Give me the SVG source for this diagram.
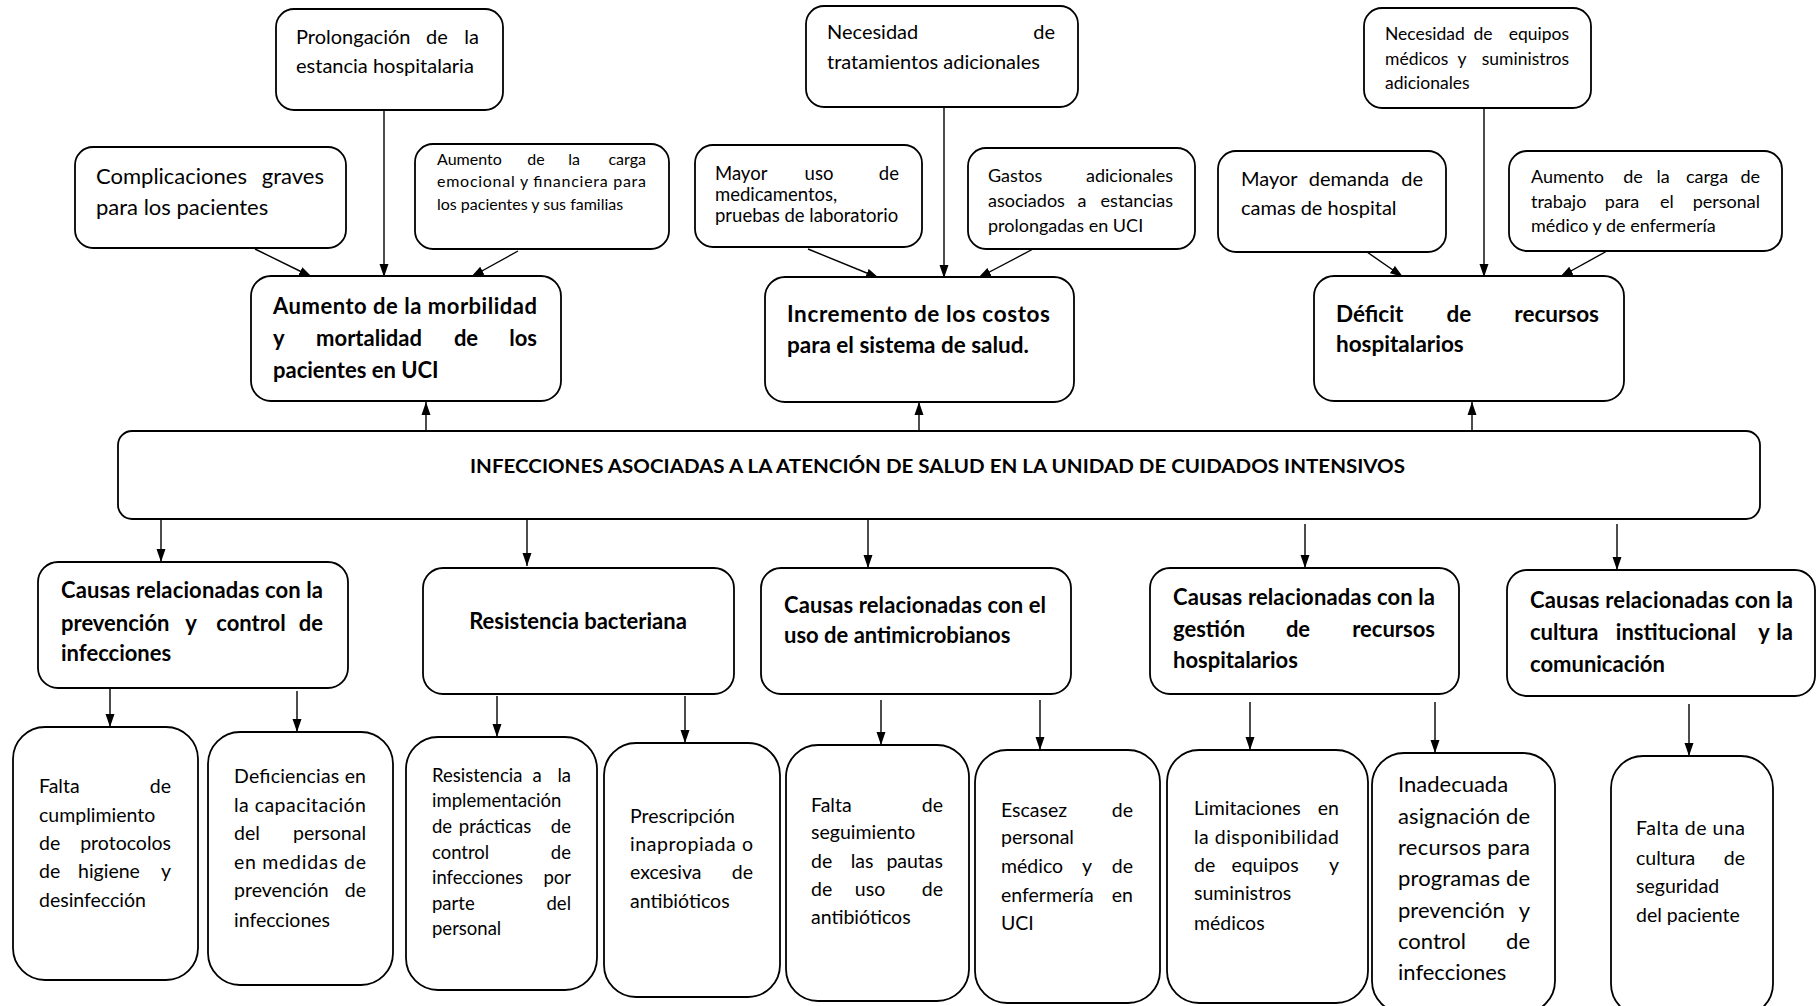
<svg xmlns="http://www.w3.org/2000/svg" width="1817" height="1006" viewBox="0 0 1817 1006">
<style>
.box{fill:#fff;stroke:#000;stroke-width:1.8}
.t{font-family:Lato,"Liberation Sans",sans-serif;fill:#000}
.b{font-weight:bold}
.c{stroke:#000;stroke-width:1.4;fill:none;marker-end:url(#ah)}
.e{text-anchor:end}
.m{text-anchor:middle}
</style>
<defs>
<marker id="ah" markerUnits="userSpaceOnUse" markerWidth="14" markerHeight="10" refX="13" refY="5" orient="auto">
<path d="M0,0.5 L13,5 L0,9.5 z" fill="#000"/>
</marker>
</defs>
<rect width="1817" height="1006" fill="#fff"/>

<g id="connectors">
<line class="c" x1="255" y1="249" x2="312" y2="277"/>
<line class="c" x1="384" y1="110" x2="384" y2="277"/>
<line class="c" x1="518" y1="251" x2="471" y2="277"/>
<line class="c" x1="808" y1="249" x2="879" y2="278"/>
<line class="c" x1="944" y1="107" x2="944" y2="278"/>
<line class="c" x1="1035" y1="248" x2="978" y2="278"/>
<line class="c" x1="1367" y1="252" x2="1403" y2="277"/>
<line class="c" x1="1484" y1="108" x2="1484" y2="277"/>
<line class="c" x1="1607" y1="251" x2="1560" y2="277"/>
<line class="c" x1="426" y1="431" x2="426" y2="402"/>
<line class="c" x1="919" y1="431" x2="919" y2="402"/>
<line class="c" x1="1472" y1="431" x2="1472" y2="402"/>
<line class="c" x1="161" y1="519" x2="161" y2="562"/>
<line class="c" x1="527" y1="519" x2="527" y2="566"/>
<line class="c" x1="868" y1="519" x2="868" y2="568"/>
<line class="c" x1="1305" y1="524" x2="1305" y2="568"/>
<line class="c" x1="1617" y1="524" x2="1617" y2="570"/>
<line class="c" x1="110" y1="688" x2="110" y2="727"/>
<line class="c" x1="297" y1="691" x2="297" y2="732"/>
<line class="c" x1="497" y1="696" x2="497" y2="737"/>
<line class="c" x1="685" y1="696" x2="685" y2="743"/>
<line class="c" x1="881" y1="700" x2="881" y2="745"/>
<line class="c" x1="1040" y1="700" x2="1040" y2="750"/>
<line class="c" x1="1250" y1="702" x2="1250" y2="750"/>
<line class="c" x1="1435" y1="702" x2="1435" y2="753"/>
<line class="c" x1="1689" y1="704" x2="1689" y2="756"/>
</g>

<g id="prolongacion">
<rect class="box" x="276" y="9" width="227" height="101" rx="18"/>
<text class="t" font-size="20" y="44"><tspan x="296">Prolongación</tspan><tspan x="437" class="m">de</tspan><tspan x="479" class="e">la</tspan></text>
<text class="t" font-size="20" x="296" y="73">estancia hospitalaria</text>
</g>

<g id="complicaciones">
<rect class="box" x="75" y="147" width="271" height="101" rx="18"/>
<text class="t" font-size="22" y="184"><tspan x="96">Complicaciones</tspan><tspan x="324" class="e">graves</tspan></text>
<text class="t" font-size="22" x="96" y="215">para los pacientes</text>
</g>

<g id="carga-emocional">
<rect class="box" x="415" y="144" width="254" height="105" rx="18"/>
<text class="t" font-size="16" y="165"><tspan x="437">Aumento</tspan><tspan x="536" class="m">de</tspan><tspan x="574" class="m">la</tspan><tspan x="646" class="e">carga</tspan></text>
<text class="t" font-size="16" x="437" y="187" textLength="209" lengthAdjust="spacing">emocional y financiera para</text>
<text class="t" font-size="16" x="437" y="210">los pacientes y sus familias</text>
</g>

<g id="morbilidad">
<rect class="box" x="251" y="276" width="310" height="125" rx="20"/>
<text class="t b" font-size="22" x="273" y="314" textLength="264" lengthAdjust="spacing">Aumento de la morbilidad</text>
<text class="t b" font-size="22" y="346"><tspan x="273">y</tspan><tspan x="369" class="m">mortalidad</tspan><tspan x="466" class="m">de</tspan><tspan x="537" class="e">los</tspan></text>
<text class="t b" font-size="22" x="273" y="378">pacientes en UCI</text>
</g>

<g id="tratamientos">
<rect class="box" x="806" y="6" width="272" height="101" rx="18"/>
<text class="t" font-size="20" y="39"><tspan x="827">Necesidad</tspan><tspan x="1055" class="e">de</tspan></text>
<text class="t" font-size="20" x="827" y="69">tratamientos adicionales</text>
</g>

<g id="mayor-uso">
<rect class="box" x="695" y="145" width="227" height="102" rx="18"/>
<text class="t" font-size="18.5" y="180"><tspan x="715">Mayor</tspan><tspan x="819" class="m">uso</tspan><tspan x="899" class="e">de</tspan></text>
<text class="t" font-size="18.5" x="715" y="201">medicamentos,</text>
<text class="t" font-size="18.5" x="715" y="222">pruebas de laboratorio</text>
</g>

<g id="gastos">
<rect class="box" x="968" y="148" width="227" height="101" rx="18"/>
<text class="t" font-size="18" y="182"><tspan x="988">Gastos</tspan><tspan x="1173" class="e">adicionales</tspan></text>
<text class="t" font-size="18" y="207"><tspan x="988">asociados</tspan><tspan x="1082" class="m">a</tspan><tspan x="1173" class="e">estancias</tspan></text>
<text class="t" font-size="18" x="988" y="232">prolongadas en UCI</text>
</g>

<g id="costos">
<rect class="box" x="765" y="277" width="309" height="125" rx="20"/>
<text class="t b" font-size="22.5" x="787" y="322" textLength="263" lengthAdjust="spacing">Incremento de los costos</text>
<text class="t b" font-size="22.5" x="787" y="353">para el sistema de salud.</text>
</g>

<g id="equipos">
<rect class="box" x="1364" y="8" width="227" height="100" rx="18"/>
<text class="t" font-size="17.5" y="40"><tspan x="1385">Necesidad</tspan><tspan x="1483" class="m">de</tspan><tspan x="1569" class="e">equipos</tspan></text>
<text class="t" font-size="17.5" y="65"><tspan x="1385">médicos</tspan><tspan x="1462" class="m">y</tspan><tspan x="1569" class="e">suministros</tspan></text>
<text class="t" font-size="17.5" x="1385" y="89">adicionales</text>
</g>

<g id="camas">
<rect class="box" x="1218" y="151" width="228" height="101" rx="18"/>
<text class="t" font-size="20" y="186"><tspan x="1241">Mayor</tspan><tspan x="1349" class="m">demanda</tspan><tspan x="1423" class="e">de</tspan></text>
<text class="t" font-size="20" x="1241" y="215">camas de hospital</text>
</g>

<g id="carga-trabajo">
<rect class="box" x="1509" y="151" width="273" height="100" rx="18"/>
<text class="t" font-size="18" y="183"><tspan x="1531">Aumento</tspan><tspan x="1633" class="m">de</tspan><tspan x="1663" class="m">la</tspan><tspan x="1707" class="m">carga</tspan><tspan x="1760" class="e">de</tspan></text>
<text class="t" font-size="18" y="208"><tspan x="1531">trabajo</tspan><tspan x="1622" class="m">para</tspan><tspan x="1667" class="m">el</tspan><tspan x="1760" class="e">personal</tspan></text>
<text class="t" font-size="18" x="1531" y="232">médico y de enfermería</text>
</g>

<g id="deficit">
<rect class="box" x="1314" y="276" width="310" height="125" rx="20"/>
<text class="t b" font-size="22.5" y="322"><tspan x="1336">Déficit</tspan><tspan x="1459" class="m">de</tspan><tspan x="1599" class="e">recursos</tspan></text>
<text class="t b" font-size="22.5" x="1336" y="352">hospitalarios</text>
</g>

<g id="central">
<rect class="box" x="118" y="431" width="1642" height="88" rx="14"/>
<text class="t b" font-size="19" x="470" y="473" textLength="935" lengthAdjust="spacingAndGlyphs">INFECCIONES ASOCIADAS A LA ATENCIÓN DE SALUD EN LA UNIDAD DE CUIDADOS INTENSIVOS</text>
</g>

<g id="prevencion">
<rect class="box" x="38" y="562" width="310" height="126" rx="20"/>
<text class="t b" font-size="22" x="61" y="598" textLength="262" lengthAdjust="spacing">Causas relacionadas con la</text>
<text class="t b" font-size="22" y="631"><tspan x="61">prevención</tspan><tspan x="191" class="m">y</tspan><tspan x="251" class="m">control</tspan><tspan x="323" class="e">de</tspan></text>
<text class="t b" font-size="22" x="61" y="661">infecciones</text>
</g>

<g id="resistencia">
<rect class="box" x="423" y="568" width="311" height="126" rx="20"/>
<text class="t b m" font-size="22" x="578" y="629">Resistencia bacteriana</text>
</g>

<g id="antimicrobianos">
<rect class="box" x="761" y="568" width="310" height="126" rx="20"/>
<text class="t b" font-size="22" x="784" y="613" textLength="262" lengthAdjust="spacing">Causas relacionadas con el</text>
<text class="t b" font-size="22" x="784" y="643">uso de antimicrobianos</text>
</g>

<g id="gestion">
<rect class="box" x="1150" y="568" width="309" height="126" rx="20"/>
<text class="t b" font-size="22" x="1173" y="605" textLength="262" lengthAdjust="spacing">Causas relacionadas con la</text>
<text class="t b" font-size="22" y="637"><tspan x="1173">gestión</tspan><tspan x="1298" class="m">de</tspan><tspan x="1435" class="e">recursos</tspan></text>
<text class="t b" font-size="22" x="1173" y="668">hospitalarios</text>
</g>

<g id="cultura">
<rect class="box" x="1507" y="570" width="308" height="126" rx="20"/>
<text class="t b" font-size="22" x="1530" y="608" textLength="263" lengthAdjust="spacing">Causas relacionadas con la</text>
<text class="t b" font-size="22" y="640"><tspan x="1530">cultura</tspan><tspan x="1676" class="m">institucional</tspan><tspan x="1764" class="m">y</tspan><tspan x="1793" class="e">la</tspan></text>
<text class="t b" font-size="22" x="1530" y="672">comunicación</text>
</g>

<g id="falta-cumplimiento">
<rect class="box" x="13" y="727" width="185" height="253" rx="32"/>
<text class="t" font-size="19.5" y="793"><tspan x="39">Falta</tspan><tspan x="171" class="e">de</tspan></text>
<text class="t" font-size="19.5" x="39" y="822">cumplimiento</text>
<text class="t" font-size="19.5" y="850"><tspan x="39">de</tspan><tspan x="171" class="e">protocolos</tspan></text>
<text class="t" font-size="19.5" y="878"><tspan x="39">de</tspan><tspan x="109" class="m">higiene</tspan><tspan x="171" class="e">y</tspan></text>
<text class="t" font-size="19.5" x="39" y="907">desinfección</text>
</g>

<g id="deficiencias">
<rect class="box" x="208" y="732" width="185" height="253" rx="32"/>
<text class="t" font-size="19.5" x="234" y="783" textLength="132" lengthAdjust="spacing">Deficiencias en</text>
<text class="t" font-size="19.5" x="234" y="812" textLength="132" lengthAdjust="spacing">la capacitación</text>
<text class="t" font-size="19.5" y="840"><tspan x="234">del</tspan><tspan x="366" class="e">personal</tspan></text>
<text class="t" font-size="19.5" x="234" y="869" textLength="132" lengthAdjust="spacing">en medidas de</text>
<text class="t" font-size="19.5" y="897"><tspan x="234">prevención</tspan><tspan x="366" class="e">de</tspan></text>
<text class="t" font-size="19.5" x="234" y="927">infecciones</text>
</g>

<g id="resistencia-impl">
<rect class="box" x="406" y="737" width="191" height="253" rx="32"/>
<text class="t" font-size="18.5" y="782"><tspan x="432">Resistencia</tspan><tspan x="537" class="m">a</tspan><tspan x="571" class="e">la</tspan></text>
<text class="t" font-size="18.5" x="432" y="807">implementación</text>
<text class="t" font-size="18.5" y="833"><tspan x="432">de</tspan><tspan x="495" class="m">prácticas</tspan><tspan x="571" class="e">de</tspan></text>
<text class="t" font-size="18.5" y="859"><tspan x="432">control</tspan><tspan x="571" class="e">de</tspan></text>
<text class="t" font-size="18.5" y="884"><tspan x="432">infecciones</tspan><tspan x="571" class="e">por</tspan></text>
<text class="t" font-size="18.5" y="910"><tspan x="432">parte</tspan><tspan x="571" class="e">del</tspan></text>
<text class="t" font-size="18.5" x="432" y="935">personal</text>
</g>

<g id="prescripcion">
<rect class="box" x="604" y="743" width="176" height="254" rx="32"/>
<text class="t" font-size="19.5" x="630" y="823">Prescripción</text>
<text class="t" font-size="19.5" x="630" y="851" textLength="123" lengthAdjust="spacing">inapropiada o</text>
<text class="t" font-size="19.5" y="879"><tspan x="630">excesiva</tspan><tspan x="753" class="e">de</tspan></text>
<text class="t" font-size="19.5" x="630" y="908">antibióticos</text>
</g>

<g id="falta-seguimiento">
<rect class="box" x="786" y="745" width="183" height="256" rx="32"/>
<text class="t" font-size="19.5" y="812"><tspan x="811">Falta</tspan><tspan x="943" class="e">de</tspan></text>
<text class="t" font-size="19.5" x="811" y="839">seguimiento</text>
<text class="t" font-size="19.5" y="868"><tspan x="811">de</tspan><tspan x="862" class="m">las</tspan><tspan x="943" class="e">pautas</tspan></text>
<text class="t" font-size="19.5" y="896"><tspan x="811">de</tspan><tspan x="870" class="m">uso</tspan><tspan x="943" class="e">de</tspan></text>
<text class="t" font-size="19.5" x="811" y="924">antibióticos</text>
</g>

<g id="escasez">
<rect class="box" x="975" y="750" width="185" height="253" rx="32"/>
<text class="t" font-size="19.5" y="817"><tspan x="1001">Escasez</tspan><tspan x="1133" class="e">de</tspan></text>
<text class="t" font-size="19.5" x="1001" y="844">personal</text>
<text class="t" font-size="19.5" y="873"><tspan x="1001">médico</tspan><tspan x="1087" class="m">y</tspan><tspan x="1133" class="e">de</tspan></text>
<text class="t" font-size="19.5" y="902"><tspan x="1001">enfermería</tspan><tspan x="1133" class="e">en</tspan></text>
<text class="t" font-size="19.5" x="1001" y="930">UCI</text>
</g>

<g id="limitaciones">
<rect class="box" x="1167" y="750" width="201" height="253" rx="32"/>
<text class="t" font-size="19.5" y="815"><tspan x="1194">Limitaciones</tspan><tspan x="1339" class="e">en</tspan></text>
<text class="t" font-size="19.5" x="1194" y="844" textLength="145" lengthAdjust="spacing">la disponibilidad</text>
<text class="t" font-size="19.5" y="872"><tspan x="1194">de</tspan><tspan x="1265" class="m">equipos</tspan><tspan x="1339" class="e">y</tspan></text>
<text class="t" font-size="19.5" x="1194" y="900">suministros</text>
<text class="t" font-size="19.5" x="1194" y="930">médicos</text>
</g>

<g id="inadecuada">
<rect class="box" x="1372" y="753" width="183" height="260" rx="32"/>
<text class="t" font-size="22" x="1398" y="792">Inadecuada</text>
<text class="t" font-size="22" x="1398" y="824" textLength="132" lengthAdjust="spacing">asignación de</text>
<text class="t" font-size="22" x="1398" y="855" textLength="132" lengthAdjust="spacing">recursos para</text>
<text class="t" font-size="22" x="1398" y="886" textLength="132" lengthAdjust="spacing">programas de</text>
<text class="t" font-size="22" y="918"><tspan x="1398">prevención</tspan><tspan x="1530" class="e">y</tspan></text>
<text class="t" font-size="22" y="949"><tspan x="1398">control</tspan><tspan x="1530" class="e">de</tspan></text>
<text class="t" font-size="22" x="1398" y="980">infecciones</text>
</g>

<g id="falta-cultura">
<rect class="box" x="1611" y="756" width="162" height="260" rx="32"/>
<text class="t" font-size="19.5" x="1636" y="835" textLength="109" lengthAdjust="spacing">Falta de una</text>
<text class="t" font-size="19.5" y="865"><tspan x="1636">cultura</tspan><tspan x="1745" class="e">de</tspan></text>
<text class="t" font-size="19.5" x="1636" y="893">seguridad</text>
<text class="t" font-size="19.5" x="1636" y="922">del paciente</text>
</g>
</svg>
